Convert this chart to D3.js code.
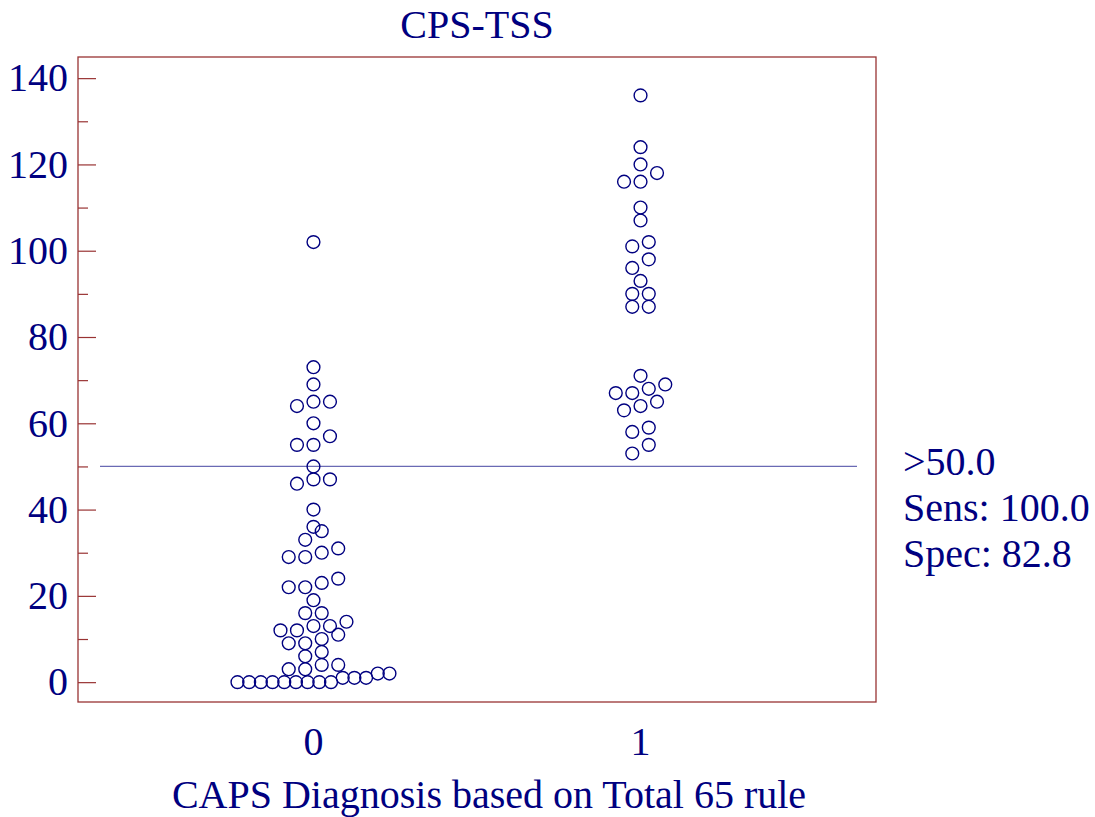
<!DOCTYPE html>
<html lang="en">
<head>
<meta charset="UTF-8">
<title>CPS-TSS dot plot</title>
<script src="https://d3js.org/d3.v7.min.js"></script>
<style>
  body { margin: 0; background: #fff; }
  text { font-family: "Liberation Serif", "Times New Roman", serif; fill: #000080; }
</style>
</head>
<body>
<div id="chart"></div>
<script>
// values
const groups = ["0", "1"];
const group0 = [0,0,0,0,0,0,0,0,0,1,1,1,2,2,3,3,4,4,6,7,9,9,10,11,12,12,13,13,14,
  16,16,19,22,22,23,24,29,29,30,31,33,35,36,40,46,47,47,50,55,55,57,60,64,65,65,69,73,102];
const group1 = [53,55,58,59,63,64,65,67,67,68,69,71,87,87,90,90,93,96,98,101,102,
  107,110,116,116,118,120,124,136];
const cutoff = 50;
const yTicks = [0, 20, 40, 60, 80, 100, 120, 140];
const yMinor = [10, 30, 50, 70, 90, 110, 130];
const sideText = [">50.0", "Sens: 100.0", "Spec: 82.8"];

const W = 1095, H = 817;
const frame = { left: 78, right: 876, top: 57, bottom: 702 };
const navy = "#000080", frameCol = "#993333";
const fontSize = "40px";

const svg = d3.select("#chart").append("svg")
  .attr("width", W).attr("height", H);

const x = d3.scaleLinear().domain([-0.72, 1.72]).range([frame.left, frame.right]);
const y = d3.scaleLinear().domain([-4.6, 144.9]).range([frame.bottom, frame.top]);

// cutoff line
svg.append("line")
  .attr("x1", 100).attr("x2", 857)
  .attr("y1", y(cutoff)).attr("y2", y(cutoff))
  .attr("stroke", "#6a6ab4").attr("stroke-width", 1.2);

// frame
svg.append("rect")
  .attr("x", frame.left).attr("y", frame.top)
  .attr("width", frame.right - frame.left).attr("height", frame.bottom - frame.top)
  .attr("fill", "none").attr("stroke", frameCol).attr("stroke-width", 1.3);

// y axis, ticks pointing inwards
const yAxis = svg.append("g")
  .attr("transform", `translate(${frame.left},0)`)
  .call(d3.axisLeft(y).tickValues(yTicks).tickSizeInner(-18).tickSizeOuter(0).tickPadding(10));
yAxis.select(".domain").remove();
yAxis.selectAll("line").attr("stroke", frameCol).attr("stroke-width", 1.2);
yAxis.selectAll("text")
  .style("font-family", "'Liberation Serif', 'Times New Roman', serif")
  .style("font-size", fontSize).attr("fill", navy);

const yMinorAxis = svg.append("g")
  .attr("transform", `translate(${frame.left},0)`)
  .call(d3.axisLeft(y).tickValues(yMinor).tickSizeInner(-10).tickSizeOuter(0).tickFormat(""));
yMinorAxis.select(".domain").remove();
yMinorAxis.selectAll("line").attr("stroke", frameCol).attr("stroke-width", 1.2);

// x category labels
svg.selectAll(".xlab")
  .data(groups)
  .enter().append("text")
  .attr("class", "xlab")
  .attr("x", (d, i) => x(i))
  .attr("y", 755)
  .attr("text-anchor", "middle")
  .style("font-size", fontSize)
  .text(d => d);

// dot placement: values closer than one marker height share a row,
// rows are spread sideways around the category centre
const r = 6.4;
function layout(values, gi) {
  const sorted = values.slice().sort((a, b) => a - b);
  const rows = [];
  let cur = null;
  sorted.forEach(v => {
    if (cur && v < cur[0] + 3) cur.push(v);
    else { cur = [v]; rows.push(cur); }
  });
  const pts = [];
  rows.forEach(row => {
    const n = row.length;
    const step = n > 1 ? Math.min(16.5, 152 / (n - 1)) : 0;
    row.forEach((v, k) => {
      pts.push({ v: v, cx: x(gi) + (k - (n - 1) / 2) * step });
    });
  });
  return pts;
}

const dots = layout(group0, 0).concat(layout(group1, 1));
svg.selectAll(".dot")
  .data(dots)
  .enter().append("circle")
  .attr("class", "dot")
  .attr("cx", d => d.cx)
  .attr("cy", d => y(d.v))
  .attr("r", r)
  .attr("fill", "none")
  .attr("stroke", navy)
  .attr("stroke-width", 1.4);

// titles
svg.append("text")
  .attr("x", (frame.left + frame.right) / 2).attr("y", 38)
  .attr("text-anchor", "middle")
  .style("font-size", fontSize)
  .text("CPS-TSS");

svg.append("text")
  .attr("x", 489).attr("y", 808)
  .attr("text-anchor", "middle")
  .style("font-size", fontSize)
  .text("CAPS Diagnosis based on Total 65 rule");

svg.selectAll(".side")
  .data(sideText)
  .enter().append("text")
  .attr("class", "side")
  .attr("x", 903)
  .attr("y", (d, i) => 475 + i * 46)
  .style("font-size", fontSize)
  .text(d => d);
</script>
</body>
</html>
